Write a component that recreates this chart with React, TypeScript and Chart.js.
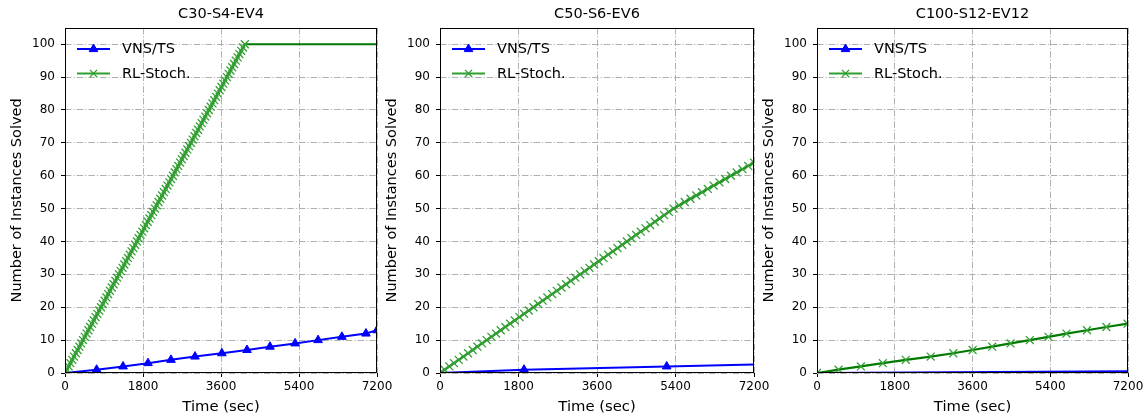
import React, { useEffect, useRef } from 'react';
import { Chart, registerables } from 'chart.js';

Chart.register(...registerables);

// ---------------- data ----------------
const panelTitles = ['C30-S4-EV4', 'C50-S6-EV6', 'C100-S12-EV12'];
const seriesLabels = ['VNS/TS', 'RL-Stoch.'];
const xTickValues = [0, 1800, 3600, 5400, 7200];
const yTickValues = [0, 10, 20, 30, 40, 50, 60, 70, 80, 90, 100];

// Panel 1: C30-S4-EV4
const vnsTimes1 = [0, 730, 1340, 1915, 2445, 3000, 3620, 4200, 4730, 5310, 5840, 6390, 6945, 7200];
const vnsSolved1 = [0, 1, 2, 3, 4, 5, 6, 7, 8, 9, 10, 11, 12, 13];
const rlTimes1 = [
  0, 40, 85, 124, 168, 207, 250, 291, 333, 372, 415,
  457, 497, 540, 581, 622, 664, 705, 746, 789, 830,
  871, 913, 955, 996, 1037, 1079, 1120, 1162, 1203, 1245,
  1286, 1328, 1369, 1411, 1452, 1494, 1535, 1577, 1618, 1660,
  1701, 1743, 1784, 1826, 1867, 1909, 1950, 1992, 2033, 2075,
  2116, 2158, 2199, 2241, 2282, 2324, 2365, 2407, 2448, 2490,
  2531, 2573, 2614, 2656, 2697, 2739, 2780, 2822, 2863, 2905,
  2946, 2988, 3029, 3071, 3112, 3154, 3195, 3237, 3278, 3320,
  3361, 3403, 3444, 3486, 3527, 3569, 3610, 3652, 3693, 3735,
  3776, 3818, 3859, 3901, 3942, 3984, 4025, 4067, 4108, 4150,
  7200,
];
const rlSolved1 = [
  0, 1, 2, 3, 4, 5, 6, 7, 8, 9, 10,
  11, 12, 13, 14, 15, 16, 17, 18, 19, 20,
  21, 22, 23, 24, 25, 26, 27, 28, 29, 30,
  31, 32, 33, 34, 35, 36, 37, 38, 39, 40,
  41, 42, 43, 44, 45, 46, 47, 48, 49, 50,
  51, 52, 53, 54, 55, 56, 57, 58, 59, 60,
  61, 62, 63, 64, 65, 66, 67, 68, 69, 70,
  71, 72, 73, 74, 75, 76, 77, 78, 79, 80,
  81, 82, 83, 84, 85, 86, 87, 88, 89, 90,
  91, 92, 93, 94, 95, 96, 97, 98, 99, 100,
  100,
];

// Panel 2: C50-S6-EV6
const vnsTimes2 = [0, 1926, 5198, 7200];
const vnsSolved2 = [0, 1, 2, 2.6];
const rlTimes2 = [
  0, 107, 214, 321, 428, 536, 643, 750, 857, 964, 1071,
  1178, 1285, 1392, 1499, 1607, 1714, 1821, 1928, 2035, 2142,
  2249, 2356, 2463, 2570, 2678, 2785, 2892, 2999, 3106, 3213,
  3320, 3427, 3534, 3641, 3749, 3856, 3963, 4070, 4177, 4284,
  4391, 4498, 4605, 4712, 4820, 4927, 5034, 5141, 5248, 5355,
  5479, 5612, 5744, 5877, 6009, 6141, 6274, 6406, 6539, 6671,
  6803, 6936, 7068, 7200,
];
const rlSolved2 = [
  0, 1, 2, 3, 4, 5, 6, 7, 8, 9, 10,
  11, 12, 13, 14, 15, 16, 17, 18, 19, 20,
  21, 22, 23, 24, 25, 26, 27, 28, 29, 30,
  31, 32, 33, 34, 35, 36, 37, 38, 39, 40,
  41, 42, 43, 44, 45, 46, 47, 48, 49, 50,
  51, 52, 53, 54, 55, 56, 57, 58, 59, 60,
  61, 62, 63, 64,
];

// Panel 3: C100-S12-EV12
const vnsTimes3 = [0, 7200];
const vnsSolved3 = [0, 0.5];
const rlTimes3 = [0, 499, 1016, 1524, 2056, 2633, 3155, 3603, 4056, 4481, 4927, 5359, 5775, 6251, 6699, 7190];
const rlSolved3 = [0, 1, 2, 3, 4, 5, 6, 7, 8, 9, 10, 11, 12, 13, 14, 15];

// which point indices carry a marker (first..last inclusive)
const vnsMarked = [[1, 13], [1, 2], [-1, -1]];
const rlMarked = [[0, 100], [0, 64], [0, 15]];

const panelData = [
  { vx: vnsTimes1, vy: vnsSolved1, rx: rlTimes1, ry: rlSolved1 },
  { vx: vnsTimes2, vy: vnsSolved2, rx: rlTimes2, ry: rlSolved2 },
  { vx: vnsTimes3, vy: vnsSolved3, rx: rlTimes3, ry: rlSolved3 },
];

// ---------------- layout / style ----------------
const FONT = 'DejaVu Sans';
const plotLeft = [65, 440, 817];
const plotRight = [377, 754, 1128];
const PAD_L = 9;
const YAXIS_W = 56;
const PAD_R = 20;
const XAXIS_H = 47;
const H = 420;

const BLUE = '#0000ff';
const GREEN_LINE = '#007a00';
const GREEN_MARK = '#35a035';
const GREEN_LEGEND = '#2f9f2f';
const TRI_R = 5;
const X_R = 5.6;

function drawTriangle(ctx: CanvasRenderingContext2D, x: number, y: number, r: number, color: string) {
  ctx.save();
  ctx.beginPath();
  for (let k = 0; k < 3; k++) {
    const a = (k * 2 * Math.PI) / 3;
    const px = x + Math.sin(a) * r;
    const py = y - Math.cos(a) * r;
    if (k === 0) ctx.moveTo(px, py);
    else ctx.lineTo(px, py);
  }
  ctx.closePath();
  ctx.fillStyle = color;
  ctx.strokeStyle = color;
  ctx.lineWidth = 1;
  ctx.fill();
  ctx.stroke();
  ctx.restore();
}

function drawX(ctx: CanvasRenderingContext2D, x: number, y: number, r: number, color: string) {
  const d = r * Math.SQRT1_2;
  ctx.save();
  ctx.beginPath();
  ctx.moveTo(x - d, y - d);
  ctx.lineTo(x + d, y + d);
  ctx.moveTo(x - d, y + d);
  ctx.lineTo(x + d, y - d);
  ctx.strokeStyle = color;
  ctx.lineWidth = 1.3;
  ctx.stroke();
  ctx.restore();
}

const framePlugin = {
  id: 'axesFrame',
  afterDatasetsDraw(chart: any) {
    const { ctx, chartArea: a } = chart;
    ctx.save();
    ctx.strokeStyle = '#000';
    ctx.lineWidth = 1;
    const l = Math.round(a.left) + 0.5;
    const t = Math.round(a.top) + 0.5;
    const r = Math.round(a.right) - 0.5;
    const b = Math.round(a.bottom) - 0.5;
    ctx.strokeRect(l, t, r - l, b - t);
    ctx.restore();
  },
};

const legendPlugin = {
  id: 'inlineLegend',
  afterDraw(chart: any) {
    const { ctx, chartArea: a } = chart;
    const colors = [BLUE, GREEN_LEGEND];
    seriesLabels.forEach((label, i) => {
      const y = a.top + 21.3 + i * 24.3;
      const x0 = a.left + 12;
      const x1 = a.left + 45;
      ctx.save();
      ctx.strokeStyle = colors[i];
      ctx.lineWidth = 2;
      ctx.beginPath();
      ctx.moveTo(x0, y);
      ctx.lineTo(x1, y);
      ctx.stroke();
      ctx.restore();
      const cx = (x0 + x1) / 2;
      if (i === 0) drawTriangle(ctx, cx, y, TRI_R, BLUE);
      else drawX(ctx, cx, y, X_R - 0.6, GREEN_MARK);
      ctx.save();
      ctx.fillStyle = '#000';
      ctx.font = `14.5px "${FONT}"`;
      ctx.textAlign = 'left';
      ctx.textBaseline = 'middle';
      ctx.fillText(label, a.left + 57, y + 0.5);
      ctx.restore();
    });
  },
};

function makeConfig(p: number): any {
  const d = panelData[p];
  const [vm0, vm1] = vnsMarked[p];
  const [rm0, rm1] = rlMarked[p];
  const gridCommon = {
    color: '#b0b0b0',
    lineWidth: 1,
    tickLength: 4,
    tickColor: '#000',
    tickWidth: 1,
    tickBorderDash: [],
  };
  const borderCommon = { display: false, dash: [6.5, 2, 1.2, 2] };
  return {
    type: 'line',
    data: {
      datasets: [
        {
          label: seriesLabels[0],
          data: d.vx.map((x, i) => ({ x, y: d.vy[i] })),
          borderColor: BLUE,
          backgroundColor: BLUE,
          borderWidth: 2,
          tension: 0,
          fill: false,
          order: 2,
          pointStyle: 'triangle',
          pointRadius: (c: any) => (c.dataIndex >= vm0 && c.dataIndex <= vm1 ? TRI_R : 0),
          pointBackgroundColor: BLUE,
          pointBorderColor: BLUE,
          pointBorderWidth: 1,
        },
        {
          label: seriesLabels[1],
          data: d.rx.map((x, i) => ({ x, y: d.ry[i] })),
          borderColor: GREEN_LINE,
          backgroundColor: GREEN_LINE,
          borderWidth: 2.2,
          tension: 0,
          fill: false,
          order: 1,
          pointStyle: 'crossRot',
          pointRadius: (c: any) => (c.dataIndex >= rm0 && c.dataIndex <= rm1 ? X_R : 0),
          pointBackgroundColor: GREEN_MARK,
          pointBorderColor: GREEN_MARK,
          pointBorderWidth: 1.3,
        },
      ],
    },
    options: {
      responsive: false,
      maintainAspectRatio: false,
      animation: false,
      events: [],
      layout: { padding: { left: PAD_L, right: PAD_R, top: 0, bottom: 0 } },
      plugins: {
        legend: { display: false },
        tooltip: { enabled: false },
        title: {
          display: true,
          text: panelTitles[p],
          fullSize: false,
          color: '#000',
          font: { family: FONT, size: 14.5, weight: 'normal' },
          padding: { top: 6, bottom: 4.4 },
        },
      },
      scales: {
        x: {
          type: 'linear',
          min: 0,
          max: 7200,
          afterBuildTicks: (s: any) => {
            s.ticks = xTickValues.map((v) => ({ value: v }));
          },
          afterFit: (s: any) => {
            s.height = XAXIS_H;
          },
          ticks: {
            autoSkip: false,
            maxRotation: 0,
            padding: 3,
            color: '#000',
            font: { family: FONT, size: 12 },
            callback: (v: any) => String(v),
          },
          grid: gridCommon,
          border: borderCommon,
          title: {
            display: true,
            text: 'Time (sec)',
            color: '#000',
            font: { family: FONT, size: 14.8 },
            padding: { top: 0, bottom: 4 },
          },
        },
        y: {
          type: 'linear',
          min: 0,
          max: 105,
          afterBuildTicks: (s: any) => {
            s.ticks = yTickValues.map((v) => ({ value: v }));
          },
          afterFit: (s: any) => {
            s.width = YAXIS_W;
          },
          ticks: {
            autoSkip: false,
            padding: 6,
            color: '#000',
            font: { family: FONT, size: 12 },
            callback: (v: any) => String(v),
          },
          grid: gridCommon,
          border: borderCommon,
          title: {
            display: true,
            text: 'Number of Instances Solved',
            color: '#000',
            font: { family: FONT, size: 14.5 },
            padding: { top: 0, bottom: 0 },
          },
        },
      },
    },
    plugins: [framePlugin, legendPlugin],
  };
}

export default function App() {
  const refs = [useRef<HTMLCanvasElement>(null), useRef<HTMLCanvasElement>(null), useRef<HTMLCanvasElement>(null)];

  useEffect(() => {
    Chart.defaults.font.family = FONT;
    Chart.defaults.color = '#000';
    const charts = refs.map((r, p) => new Chart(r.current as HTMLCanvasElement, makeConfig(p)));
    return () => charts.forEach((c) => c.destroy());
  }, []);

  return (
    <div
      style={{
        position: 'absolute',
        left: 0,
        top: 0,
        width: 1148,
        height: H,
        overflow: 'hidden',
        background: '#fff',
      }}
    >
      {[0, 1, 2].map((p) => {
        const cw = plotRight[p] - plotLeft[p] + PAD_L + YAXIS_W + PAD_R;
        return (
          <canvas
            key={p}
            ref={refs[p]}
            width={cw}
            height={H}
            style={{
              position: 'absolute',
              left: plotLeft[p] - PAD_L - YAXIS_W,
              top: 0,
              width: cw,
              height: H,
            }}
          />
        );
      })}
    </div>
  );
}
